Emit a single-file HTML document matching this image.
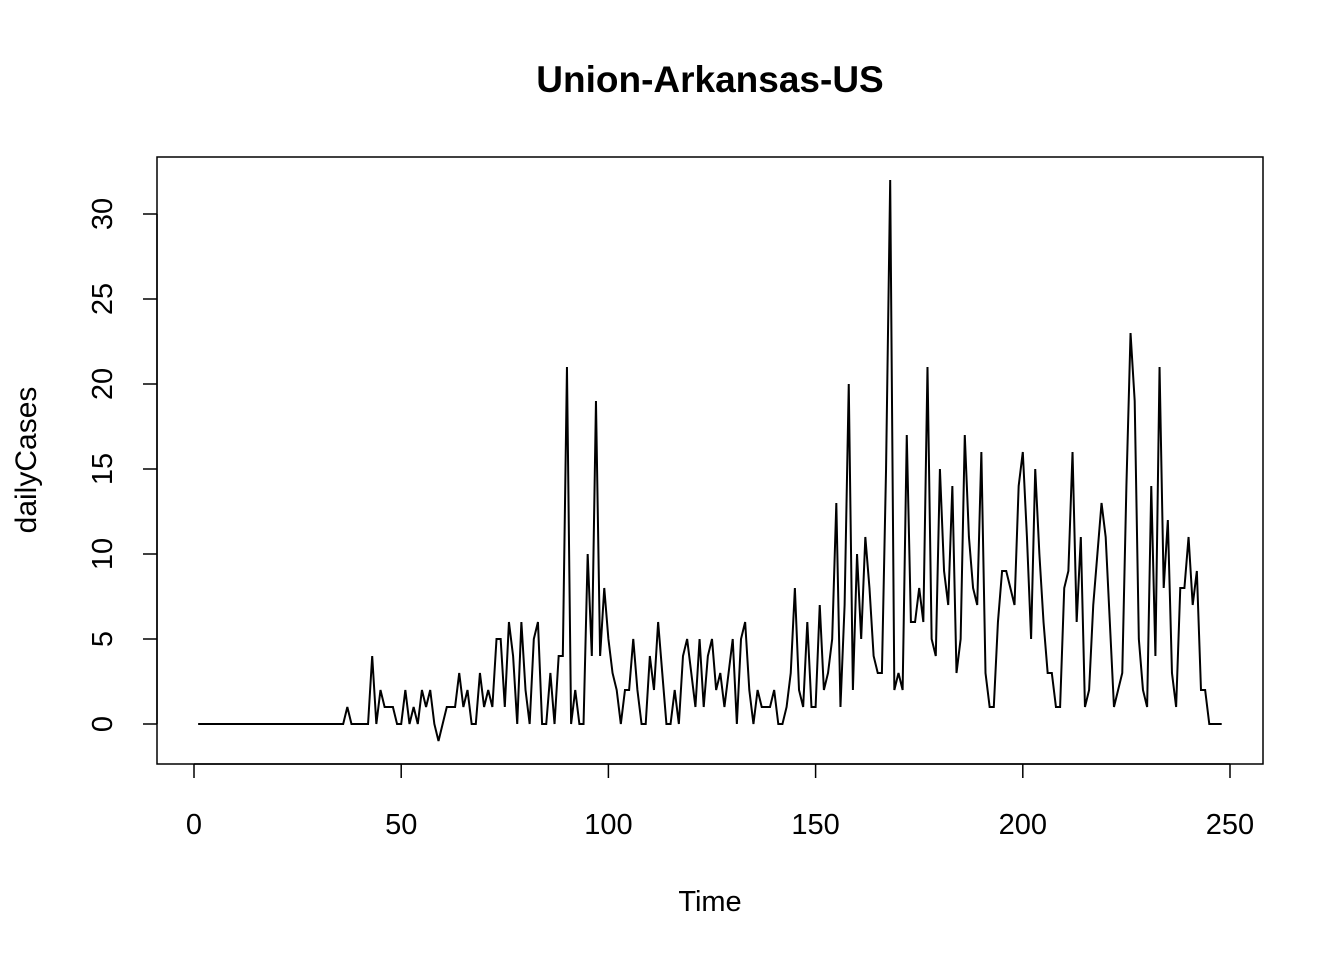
<!DOCTYPE html>
<html><head><meta charset="utf-8"><style>
body{margin:0;background:#fff}
svg text{font-family:"Liberation Sans",Arial,sans-serif;fill:#000}
</style></head><body>
<svg id="chart" width="1344" height="960" xmlns="http://www.w3.org/2000/svg">
<text x="710" y="92" font-size="37" font-weight="bold" text-anchor="middle">Union-Arkansas-US</text>
<rect x="157" y="157" width="1106" height="607" fill="none" stroke="#000" stroke-width="1.5"/>
<text x="710" y="911" font-size="29" text-anchor="middle">Time</text>
<text x="36" y="460" font-size="30" text-anchor="middle" transform="rotate(-90 36 460)">dailyCases</text>
<g id="xaxis"></g>
<g id="yaxis"></g>
<path id="line" fill="none" stroke="#000" stroke-width="2"/>
</svg>
<script>
const xTicks=[0,50,100,150,200,250];
const yTicks=[0,5,10,15,20,25,30];
const tail=[1,0,0,0,0,0,4,0,2,1,1,1,0,0,2,0,1,0,2,1,2,0,-1,0,1,1,1,3,1,2,0,0,3,1,2,1,5,5,1,6,4,0,6,2,0,5,6,0,0,3,0,4,4,21,0,2,0,0,10,4,19,4,8,5,3,2,0,2,2,5,2,0,0,4,2,6,3,0,0,2,0,4,5,3,1,5,1,4,5,2,3,1,3,5,0,5,6,2,0,2,1,1,1,2,0,0,1,3,8,2,1,6,1,1,7,2,3,5,13,1,7,20,2,10,5,11,8,4,3,3,15,32,2,3,2,17,6,6,8,6,21,5,4,15,9,7,14,3,5,17,11,8,7,16,3,1,1,6,9,9,8,7,14,16,11,5,15,10,6,3,3,1,1,8,9,16,6,11,1,2,7,10,13,11,6,1,2,3,14,23,19,5,2,1,14,4,21,8,12,3,1,8,8,11,7,9,2,2,0,0,0,0];
const leadZeros=36;
const values=new Array(leadZeros).fill(0).concat(tail);
const X=t=>194+(t/250)*(1230-194);
const Y=v=>724-(v/30)*(724-214);
const ns="http://www.w3.org/2000/svg";
const xa=document.getElementById('xaxis'),ya=document.getElementById('yaxis');
function ln(g,x1,y1,x2,y2,name){const l=document.createElementNS(ns,'line');
l.setAttribute('x1',x1);l.setAttribute('y1',y1);l.setAttribute('x2',x2);l.setAttribute('y2',y2);
l.setAttribute('stroke','#000');l.setAttribute('stroke-width','1.5');


g.appendChild(l);}
function tx(g,x,y,s,rot,name){const t=document.createElementNS(ns,'text');
t.setAttribute('x',x);t.setAttribute('y',y);t.setAttribute('font-size','29');t.setAttribute('text-anchor','middle');
if(rot)t.setAttribute('transform','rotate(-90 '+x+' '+y+')');t.textContent=s;


g.appendChild(t);}
ln(xa,X(xTicks[0]),764,X(xTicks[xTicks.length-1]),764,'x-axis-line');
xTicks.forEach(v=>{ln(xa,X(v),764,X(v),778,'x-tick');tx(xa,X(v),834,String(v),false,'x-tick-label');});
ln(ya,157,Y(yTicks[0]),157,Y(yTicks[yTicks.length-1]),'y-axis-line');
yTicks.forEach(v=>{ln(ya,157,Y(v),143,Y(v),'y-tick');tx(ya,112,Y(v),String(v),true,'y-tick-label');});
let d='';values.forEach((v,i)=>{d+=(i?'L':'M')+X(i+1).toFixed(2)+','+Y(v).toFixed(2);});
document.getElementById('line').setAttribute('d',d);
</script>
</body></html>
